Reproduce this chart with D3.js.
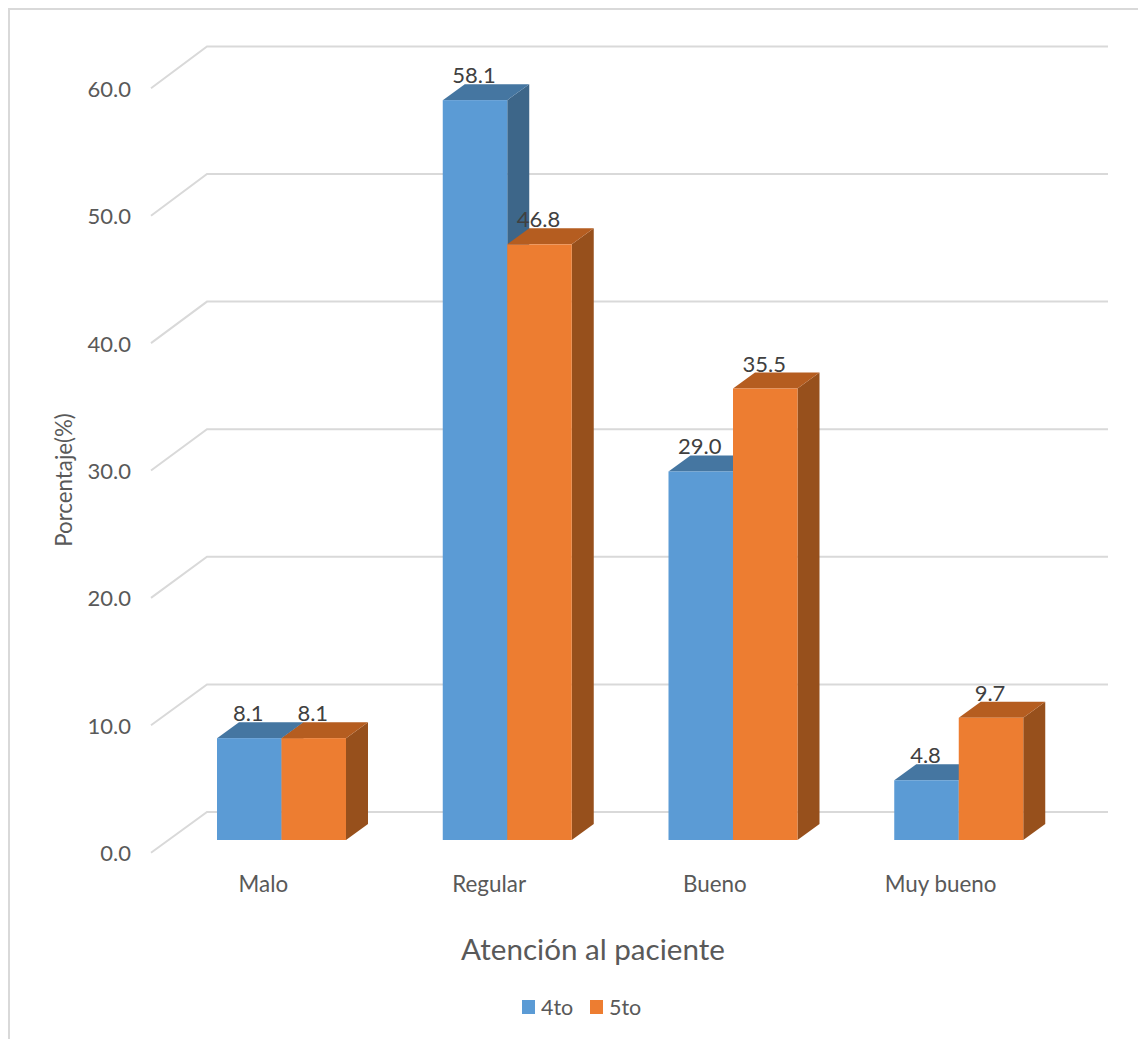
<!DOCTYPE html>
<html>
<head>
<meta charset="utf-8">
<script src="https://d3js.org/d3.v7.min.js"></script>
<style>
  html, body { margin: 0; padding: 0; background: #fff; overflow: hidden; }
  text { font-family: Lato, "Open Sans", sans-serif; }
</style>
</head>
<body>
<svg id="chart" width="1138" height="1039"></svg>
<script>
const categories = ["Malo", "Regular", "Bueno", "Muy bueno"];
const seriesNames = ["4to", "5to"];
const values4to = [8.1, 58.1, 29.0, 4.8];
const values5to = [8.1, 46.8, 35.5, 9.7];
const yTicks = [0, 10, 20, 30, 40, 50, 60];

const W = 1138, H = 1039;
const svg = d3.select("#chart").attr("viewBox", [0, 0, W, H]);

// Chart frame: only the top and left edges fall inside the page
svg.append("path")
  .attr("d", "M9,1039V9H1138")
  .attr("fill", "none").attr("stroke", "#d9d9d9").attr("stroke-width", 2);

// Value scale on the plane of the bars' front faces, and the slightly
// foreshortened scale along the front edge of the side wall
const y = d3.scaleLinear().domain([0, 60]).range([841.5, 75.9]);
const yFront = d3.scaleLinear().domain([0, 60]).range([852.7, 88.3]);
const x0 = d3.scaleBand().domain(categories).range([169, 1072]);
const x1 = d3.scaleBand().domain(seriesNames).range([48, 177]);

// 3D offsets: the chart box and the shallower bar depth
const wall = { left: 151, back: 207, right: 1108, backDy: -29.5 };
const depth = { dx: 22, dy: -16 };
const barBase = y(0) - 1.5;

// Side wall and back wall gridlines
const grid = svg.append("g").attr("fill", "none").attr("stroke", "#d9d9d9").attr("stroke-width", 2);
grid.selectAll("path").data(yTicks).join("path")
  .attr("d", d => `M${wall.left},${yFront(d)}L${wall.back},${y(d) + wall.backDy}H${wall.right}`);

// Value axis labels
svg.append("g").selectAll("text").data(yTicks).join("text")
  .attr("x", 131).attr("y", d => yFront(d) + 8.5)
  .attr("text-anchor", "end")
  .attr("font-size", 22).attr("fill", "#595959")
  .text(d => d3.format(".1f")(d));

// Axis titles
svg.append("text")
  .attr("transform", "translate(72,480) rotate(-90)")
  .attr("text-anchor", "middle").attr("font-size", 22.3).attr("fill", "#595959")
  .text("Porcentaje(%)");
svg.append("text")
  .attr("x", 593).attr("y", 960).attr("text-anchor", "middle")
  .attr("font-size", 29.6).attr("fill", "#595959")
  .text("Atención al paciente");

// Category labels
svg.append("g").selectAll("text").data(categories).join("text")
  .attr("x", d => x0(d) + x0.bandwidth() / 2 - 18.5)
  .attr("y", 892).attr("text-anchor", "middle")
  .attr("font-size", 22.4).attr("fill", "#595959")
  .text(d => d);

// Face colours per series: front, top, side
const faces = {
  "4to": ["#5b9bd5", "#4576a1", "#3d6689"],
  "5to": ["#ed7d31", "#b55d20", "#97501c"]
};
const rows = categories.flatMap((c, i) => [
  { c, s: "4to", v: values4to[i] },
  { c, s: "5to", v: values5to[i] }
]);

// Bars, painted left to right so nearer faces overlap correctly
const bars = svg.append("g").selectAll("g").data(rows).join("g");
bars.each(function (d) {
  const g = d3.select(this);
  const xl = x0(d.c) + x1(d.s), xr = xl + x1.bandwidth();
  const yt = y(d.v);
  const [front, top, side] = faces[d.s];
  g.append("path").attr("fill", side)
    .attr("d", `M${xr},${yt}l${depth.dx},${depth.dy}V${barBase + depth.dy}L${xr},${barBase}Z`);
  g.append("path").attr("fill", top)
    .attr("d", `M${xl},${yt}l${depth.dx},${depth.dy}H${xr + depth.dx}L${xr},${yt}Z`);
  g.append("rect").attr("fill", front)
    .attr("x", xl).attr("y", yt).attr("width", xr - xl).attr("height", barBase - yt);
});

// Data labels sit above the front edge of each bar top
svg.append("g").selectAll("text").data(rows).join("text")
  .attr("x", d => x0(d.c) + x1(d.s) + x1.bandwidth() / 2 - 1)
  .attr("y", d => y(d.v) - 17)
  .attr("text-anchor", "middle").attr("font-size", 22).attr("fill", "#404040")
  .text(d => d3.format(".1f")(d.v));

// Legend
const legendX = d3.scaleOrdinal().domain(seriesNames).range([522, 590]);
const legend = svg.append("g").selectAll("g").data(seriesNames).join("g")
  .attr("transform", d => `translate(${legendX(d)},1000)`);
legend.append("rect").attr("width", 13).attr("height", 14)
  .attr("fill", d => faces[d][0]);
legend.append("text").attr("x", 19).attr("y", 15)
  .attr("font-size", 21.5).attr("fill", "#595959").text(d => d);
</script>
</body>
</html>
